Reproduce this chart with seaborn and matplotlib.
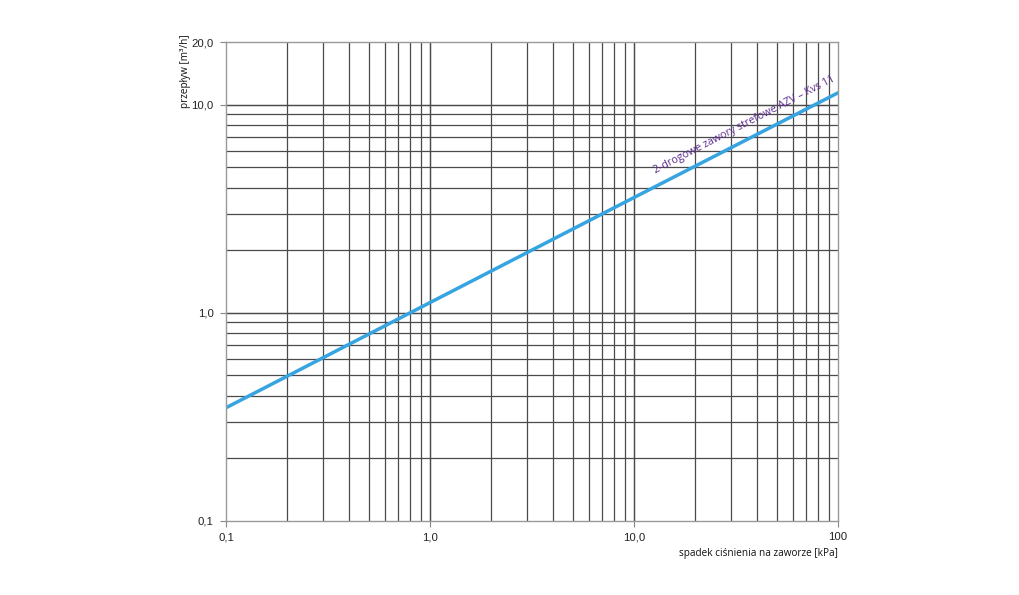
import numpy as np
import pandas as pd
import matplotlib
matplotlib.use("Agg")
import matplotlib.pyplot as plt
import seaborn as sns

# data (pressure drop in kPa, flow in m3/h)
dp_kpa = [0.1, 1.0, 10.0, 100.0]
flow_m3h = [0.35, 1.12, 3.58, 11.4]
series_label = "2-drogowe zawory strefowe AZV – Kvs 11"

x_ticks = [0.1, 1.0, 10.0, 100.0]
x_ticklabels = ["0,1", "1,0", "10,0", "100"]
y_ticks = [0.1, 1.0, 10.0, 20.0]
y_ticklabels = ["0,1", "1,0", "10,0", "20,0"]
x_label = "spadek ciśnienia na zaworze [kPa]"
y_label = "przepływ [m³/h]"

sns.set_theme(style="white")
plt.rcParams['font.family'] = ['Open Sans', 'DejaVu Sans']

fig = plt.figure(figsize=(10.2, 5.95), dpi=100)
ax = fig.add_axes([226/1020, 74/595, 612/1020, 479/595])

df = pd.DataFrame({"dp": dp_kpa, "q": flow_m3h})
sns.lineplot(data=df, x="dp", y="q", ax=ax, color="#35a4e0", linewidth=2.5)

ax.set_xscale("log")
ax.set_yscale("log")
ax.set_xlim(0.1, 100)
ax.set_ylim(0.1, 20)

grid_c = "#4a4a4a"
for dec in [0.1, 1, 10]:
    for m in range(1, 11):
        v = dec * m
        if 0.1 < v < 100:
            ax.axvline(v, color=grid_c, lw=0.9, zorder=0)
for dec in [0.1, 1, 10]:
    for m in range(1, 11):
        v = dec * m
        if 0.1 < v < 20:
            ax.axhline(v, color=grid_c, lw=0.9, zorder=0)

ax.set_xticks(x_ticks)
ax.set_xticklabels(x_ticklabels, family=['Liberation Sans'], fontsize=8.2)
ax.set_yticks(y_ticks)
ax.set_yticklabels(y_ticklabels, family=['Liberation Sans'], fontsize=8.2)
ax.minorticks_off()
ax.tick_params(axis="both", which="major", direction="out", length=4, width=0.8,
               color="#888888", labelcolor="#222222", pad=5)
ax.tick_params(axis="x", pad=4, bottom=True)
ax.tick_params(axis="y", left=True)

for s in ax.spines.values():
    s.set_color("#999999")
    s.set_linewidth(1.0)

ax.set_xlabel(x_label, fontsize=7.2, color="#111111")
ax.xaxis.set_label_coords(1.0, -0.056)
ax.xaxis.label.set_horizontalalignment("right")
ax.set_ylabel(y_label, fontsize=7.2, color="#111111")
ax.yaxis.set_label_coords(-0.057, 1.015)
ax.yaxis.label.set_verticalalignment("bottom")
ax.yaxis.label.set_horizontalalignment("right")

# rotated series label along the line
fig.canvas.draw()
p1 = ax.transData.transform((dp_kpa[0], flow_m3h[0]))
p2 = ax.transData.transform((dp_kpa[-1], flow_m3h[-1]))
ang = np.degrees(np.arctan2(p2[1] - p1[1], p2[0] - p1[0]))
x_end = 99.0
y_end = flow_m3h[-1] * (x_end / dp_kpa[-1]) ** 0.506 * 1.11
ax.text(x_end, y_end, series_label, rotation=ang, rotation_mode="anchor",
        ha="right", va="bottom", fontsize=7.7, color="#5e2b8f")

fig.savefig("out.png", dpi=100)
